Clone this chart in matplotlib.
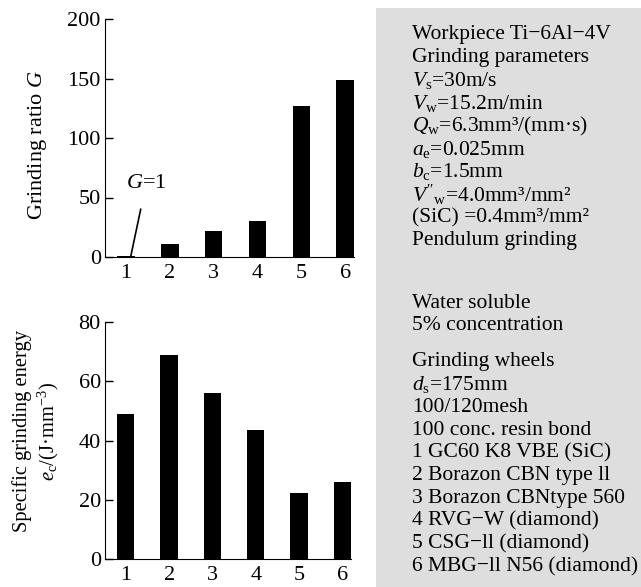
import matplotlib
matplotlib.use("Agg")
import matplotlib.pyplot as plt
from matplotlib.patches import Rectangle

# data
wheels = [1, 2, 3, 4, 5, 6]
grinding_ratio = [1, 11, 22, 30, 127, 149]
specific_energy = [49, 68.7, 56.2, 43.5, 22.2, 26]

panel_lines = [
    "Workpiece Ti\u22126Al\u22124V",
    "Grinding parameters",
    r"$V_\mathrm{s}$=30m/s",
    r"$V_\mathrm{w}$=15.2m/min",
    r"$Q_\mathrm{w}$=6.3mm³/(mm·s)",
    r"$a_\mathrm{e}$=0.025mm",
    r"$b_\mathrm{c}$=1.5mm",
    r"$V''_\mathrm{w}$=4.0mm³/mm²",
    "(SiC) =0.4mm³/mm²",
    "Pendulum grinding",
    40,
    "Water soluble",
    "5% concentration",
    13,
    "Grinding wheels",
    r"$d_\mathrm{s}$=175mm",
    "100/120mesh",
    "100 conc. resin bond",
    "1 GC60 K8 VBE (SiC)",
    "2 Borazon CBN type ll",
    "3 Borazon CBNtype 560",
    "4 RVG\u2212W (diamond)",
    "5 CSG\u2212ll (diamond)",
    "6 MBG\u2212ll N56 (diamond)",
]

plt.rcParams['font.family'] = ['Liberation Serif', 'DejaVu Serif']
plt.rcParams['mathtext.fontset'] = 'custom'
plt.rcParams['mathtext.rm'] = 'Liberation Serif'
plt.rcParams['mathtext.it'] = 'Liberation Serif:italic'
plt.rcParams['font.size'] = 16

fig = plt.figure(figsize=(6.41, 5.87), dpi=100)

# gray info panel
fig.patches.append(Rectangle((376 / 641, 0), 1 - 376 / 641, (587 - 8) / 587,
                             transform=fig.transFigure, facecolor='#dedede',
                             edgecolor='none', zorder=0))


def style_axes(ax):
    ax.spines['top'].set_visible(False)
    ax.spines['right'].set_visible(False)
    ax.tick_params(axis='y', direction='in', length=6, width=1, pad=3, labelsize=16)
    ax.tick_params(axis='x', length=0, pad=5, labelsize=16)
    ax.set_xticks(wheels)
    ax.set_xlim(0.52, 6.2)


# top: grinding ratio
ax1 = fig.add_axes([105 / 641, (587 - 257) / 587, 249 / 641, 238 / 587])
ax1.bar(wheels, grinding_ratio, width=0.4, color='black')
ax1.set_ylim(0, 200)
ax1.set_yticks([0, 50, 100, 150, 200])
style_axes(ax1)
ax1.set_ylabel(r"Grinding ratio $G$", fontsize=16, va='center')
ax1.yaxis.set_label_coords(-0.27, 0.47)
ax1.annotate(r"$G$=1", xy=(1.11, 1), xytext=(1.46, 62), ha='center', va='center',
             fontsize=16, arrowprops=dict(arrowstyle='-', lw=1.2, color='black',
                                          shrinkA=10, shrinkB=0))

# bottom: specific grinding energy
ax2 = fig.add_axes([105 / 641, (587 - 559) / 587, 246 / 641, 237 / 587])
ax2.bar(wheels, specific_energy, width=0.4, color='black')
ax2.set_ylim(0, 80)
ax2.set_yticks([0, 20, 40, 60, 80])
style_axes(ax2)
ax2.set_ylabel("Specific grinding energy\n" + r"$e_\mathrm{c}$/(J·mm$^{-3}$)",
               fontsize=14.8, linespacing=1.25, va='center')
ax2.yaxis.set_label_coords(-0.278, 0.54)

# panel text
y = 35
for line in panel_lines:
    if isinstance(line, int):
        y += line
        continue
    fig.text(412 / 641, 1 - y / 587, line, fontsize=15.5, ha='left', va='center')
    y += 22.8

fig.savefig("out.png", dpi=100)
